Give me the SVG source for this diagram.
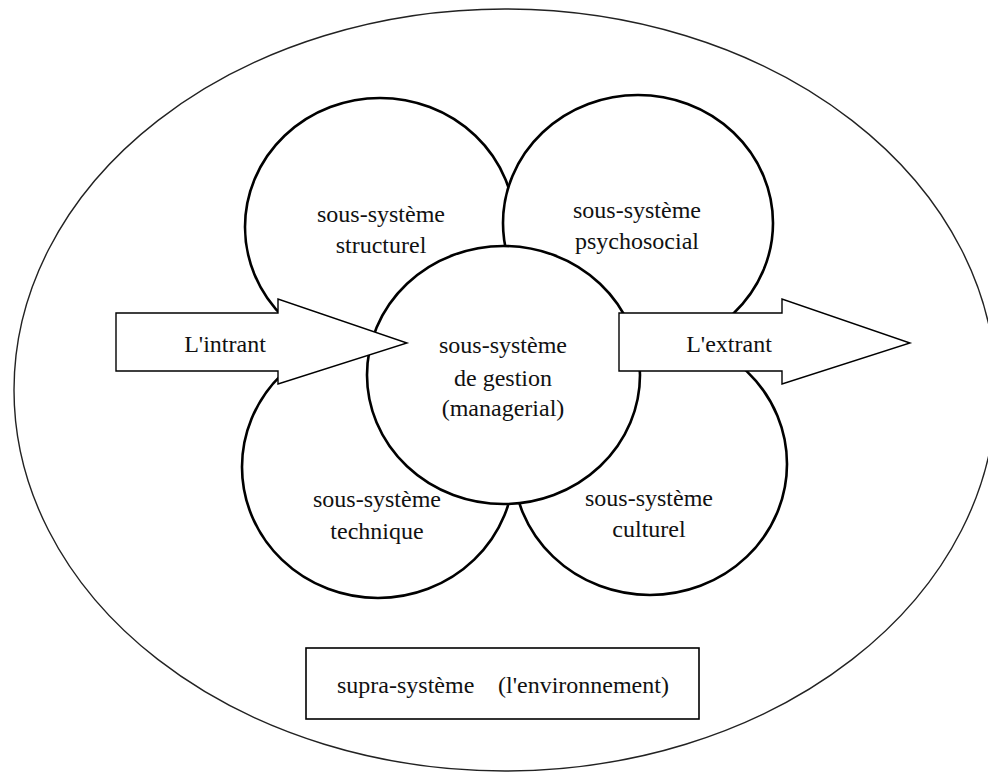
<svg xmlns="http://www.w3.org/2000/svg" width="988" height="773" viewBox="0 0 988 773" font-family="'Liberation Serif', 'Times New Roman', 'DejaVu Serif', serif">
<style>
text{font-family:'Liberation Serif','Times New Roman','DejaVu Serif',serif}
.t{font-size:24px;fill:#111;text-anchor:middle}
.c{fill:#fff;stroke:#000;stroke-width:2.6}
.a{fill:#fff;stroke:#000;stroke-width:1.4;stroke-linejoin:miter}
</style>
<rect x="0" y="0" width="988" height="773" fill="#fff"/>
<g id="environment">
<ellipse cx="505" cy="390" rx="491" ry="381" fill="#fff" stroke="#222" stroke-width="1.4"/>
</g>
<g id="structurel">
<ellipse class="c" cx="380" cy="227" rx="135" ry="129"/>
<text class="t" x="381" y="222">sous-système</text>
<text class="t" x="381" y="253">structurel</text>
</g>
<g id="psychosocial">
<ellipse class="c" cx="638" cy="223" rx="135" ry="128"/>
<text class="t" x="637" y="218">sous-système</text>
<text class="t" x="637" y="249">psychosocial</text>
</g>
<g id="technique">
<ellipse class="c" cx="378" cy="467" rx="136" ry="131"/>
<text class="t" x="377" y="507">sous-système</text>
<text class="t" x="377" y="539">technique</text>
</g>
<g id="culturel">
<ellipse class="c" cx="650" cy="464" rx="137" ry="131"/>
<text class="t" x="649" y="506">sous-système</text>
<text class="t" x="649" y="537">culturel</text>
</g>
<g id="gestion">
<ellipse class="c" cx="503.5" cy="375" rx="136.5" ry="129"/>
<text class="t" x="503" y="353">sous-système</text>
<text class="t" x="503" y="386">de gestion</text>
<text class="t" x="503" y="416">(managerial)</text>
</g>
<g id="connectors">
<g id="intrant">
<polygon class="a" points="116,313 278,313 278,299 407,343 278,384 278,371 116,371"/>
<text class="t" x="225" y="352">L'intrant</text>
</g>
<g id="extrant">
<polygon class="a" points="619,313 782,313 782,299 910,343 782,384 782,371 619,371"/>
<text class="t" x="729" y="352">L'extrant</text>
</g>
</g>
<g id="supra">
<rect x="306" y="648" width="393" height="71" fill="#fff" stroke="#000" stroke-width="1.6"/>
<text class="t" y="693" style="text-anchor:start"><tspan x="337">supra-système</tspan><tspan x="498">(l'environnement)</tspan></text>
</g>
</svg>
